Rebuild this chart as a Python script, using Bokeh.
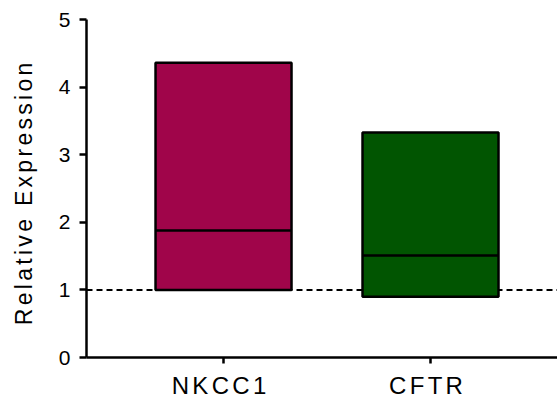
from bokeh.plotting import figure
from bokeh.models import (Range1d, Span, FixedTicker, InlineStyleSheet,
                          ColumnDataSource, LinearAxis)
from bokeh.embed import file_html
from bokeh.resources import INLINE

# ---- data ----
genes = ["NKCC1", "CFTR"]
box_low = [1.00, 0.90]
box_high = [4.36, 3.33]
medians = [1.88, 1.51]
colors = ["#A0054A", "#015501"]
y_ticks = [0, 1, 2, 3, 4, 5]
baseline = 1.0
y_title = "Relative Expression"

# ---- layout geometry (pixels) ----
W, H = 557, 401
FL, FR, FT, FB = 86, 557, 19, 358          # frame edges on the canvas
XMIN, XMAX = -0.662, 1.6135
YMIN, YMAX = 0, 5
SPACING = 3.3                              # letter spacing in px
PX = (XMAX - XMIN) / (FR - FL)             # data units per x pixel
TITLE_PX = 23
TITLE_START = 325                          # canvas y where the title begins

xpos = list(range(len(genes)))
half = 0.3285
src = ColumnDataSource(dict(
    left=[x - half for x in xpos],
    right=[x + half for x in xpos],
    bottom=box_low,
    top=box_high,
    median=medians,
    color=colors,
))

p = figure(width=W, height=H, output_backend="svg", toolbar_location=None,
           x_range=Range1d(XMIN, XMAX), y_range=Range1d(YMIN, YMAX),
           min_border_left=FL, min_border_right=W - FR, min_border_top=FT,
           min_border_bottom=H - FB)

p.add_layout(Span(location=baseline, dimension="width", line_color="black",
                  line_width=2, line_dash="6 4", level="underlay"))

p.quad(left="left", right="right", bottom="bottom", top="top", source=src,
       fill_color="color", line_color="black", line_width=2.5)
p.segment(x0="left", x1="right", y0="median", y1="median", source=src,
          line_color="black", line_width=2.5)

p.xgrid.visible = False
p.ygrid.visible = False
p.outline_line_color = None
p.background_fill_color = "white"
p.border_fill_color = "white"

for ax in (p.xaxis[0], p.yaxis[0]):
    ax.axis_line_width = 2.5
    ax.axis_line_color = "black"
    ax.major_tick_line_width = 2.5
    ax.major_tick_line_color = "black"
    ax.minor_tick_line_color = None
    ax.major_tick_in = 0
    ax.major_label_text_color = "black"

# inner x axis: line and tick marks only
p.xaxis[0].ticker = FixedTicker(ticks=xpos)
p.xaxis[0].major_tick_out = 6
p.xaxis[0].major_label_text_color = None
p.xaxis[0].major_label_text_font_size = "0px"
p.xaxis[0].major_label_standoff = 0

# outer x axis: category names, centred on the ticks despite letter spacing
lab_ticks = [x - ((len(g) - 1) * SPACING / 2 + 4.5) * PX for x, g in zip(xpos, genes)]
xlab = LinearAxis(ticker=FixedTicker(ticks=lab_ticks),
                  major_label_overrides={t: g for t, g in zip(lab_ticks, genes)},
                  axis_line_color=None, major_tick_line_color=None,
                  minor_tick_line_color=None, major_tick_in=0, major_tick_out=0,
                  major_label_standoff=8, major_label_text_font="Liberation Sans",
                  major_label_text_font_size="24px", major_label_text_color="black")
p.add_layout(xlab, "below")

p.yaxis.ticker = FixedTicker(ticks=y_ticks)
p.yaxis.major_tick_out = 7
p.yaxis.major_label_text_font = "Liberation Sans"
p.yaxis.major_label_text_font_size = "21px"
p.yaxis.major_label_standoff = 9

# y-axis title: Bokeh centres it on the frame by its unspaced width, so pad it
# with trailing (collapsed, invisible) blanks to make it begin at TITLE_START.
title_w = 8836 / 1000 * TITLE_PX            # advance width of the title (Arial metrics)
space_w = 278 / 1000 * TITLE_PX
n_pad = round((2 * (TITLE_START - (FT + FB) / 2) - title_w) / space_w)
p.yaxis.axis_label = y_title + " " * max(n_pad, 0)
p.yaxis.axis_label_text_font = "Liberation Sans"
p.yaxis.axis_label_text_font_size = "%dpx" % TITLE_PX
p.yaxis.axis_label_text_font_style = "normal"
p.yaxis.axis_label_text_color = "black"
p.yaxis.axis_label_standoff = 19

p.stylesheets = [InlineStyleSheet(css=':host { letter-spacing: %.1fpx; }' % SPACING)]

open("out.html", "w").write(file_html(p, INLINE))
